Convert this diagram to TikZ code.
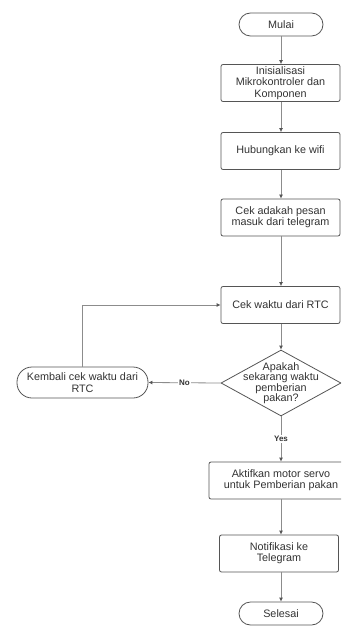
\documentclass[tikz,border=0pt]{standalone}
\usepackage{fontspec}
\setmainfont{Liberation Sans}
\usetikzlibrary{shapes.geometric,arrows.meta}
\definecolor{txt}{HTML}{333333}
\definecolor{edgec}{HTML}{555555}
\definecolor{connc}{HTML}{8C8C8C}
\begin{document}
\begin{tikzpicture}[x=1pt,y=-1pt,
 font=\fontsize{10.8}{11.3}\selectfont, text=txt,
 proc/.style={draw=edgec, line width=0.8pt, rounded corners=2pt, minimum width=119pt, minimum height=37pt, align=center, inner sep=0pt},
 term/.style={draw=edgec, line width=0.8pt, rounded corners=11.5pt, minimum width=84pt, minimum height=23pt, align=center, inner sep=0pt},
 conn/.style={draw=connc, line width=0.8pt, -{Latex[length=4pt,width=4pt,color=edgec]}},
 lbl/.style={font=\fontsize{8}{9}\selectfont\bfseries, fill=white, inner sep=1pt}]
\clip (0,0) rectangle (341,628);
\fill[white] (0,0) rectangle (341,628);
\node[term] (start) at (281,24.5) {Mulai};
\node[proc] (init) at (280.5,83) {Inisialisasi\\Mikrokontroler dan\\Komponen};
\node[proc] (wifi) at (280.5,151) {Hubungkan ke wifi};
\node[proc] (msg) at (280.5,217.5) {Cek adakah pesan\\masuk dari telegram};
\node[proc] (rtc) at (280.5,305) {Cek waktu dari RTC};
\node[diamond, draw=edgec, line width=0.8pt, minimum width=120pt, minimum height=66pt, inner sep=0pt] (dec) at (281,383) {};
\node[align=center, font=\fontsize{10.8}{10.5}\selectfont] (dectext) at (dec.center) {Apakah\\sekarang waktu\\pemberian\\pakan?};
\node[term, minimum width=131pt, minimum height=31pt, rounded corners=15pt] (back) at (82.5,382.5) {Kembali cek waktu dari\\RTC};
\node[proc, minimum width=144pt] (servo) at (281,480.5) {Aktifkan motor servo\\untuk Pemberian pakan};
\node[proc] (notif) at (279,553.5) {Notifikasi ke\\Telegram};
\node[term] (end) at (281,613.5) {Selesai};
\draw[conn] (start.south) -- (start.south |- init.north);
\draw[conn] (init.south -| start) -- (start |- wifi.north);
\draw[conn] (wifi.south -| start) -- (start |- msg.north);
\draw[conn] (msg.south -| start) -- (start |- rtc.north);
\draw[conn] (rtc.south -| start) -- (dec.north);
\draw[conn] (dec.west) -- node[lbl] {No} (back.east);
\draw[conn] (dec.south) -- node[lbl] {Yes} (servo.north);
\draw[conn] (servo.south -| start) -- (start |- notif.north);
\draw[conn] (notif.south -| start) -- (end.north);
\draw[conn] (back.north) |- (rtc.west);
\end{tikzpicture}
\end{document}
